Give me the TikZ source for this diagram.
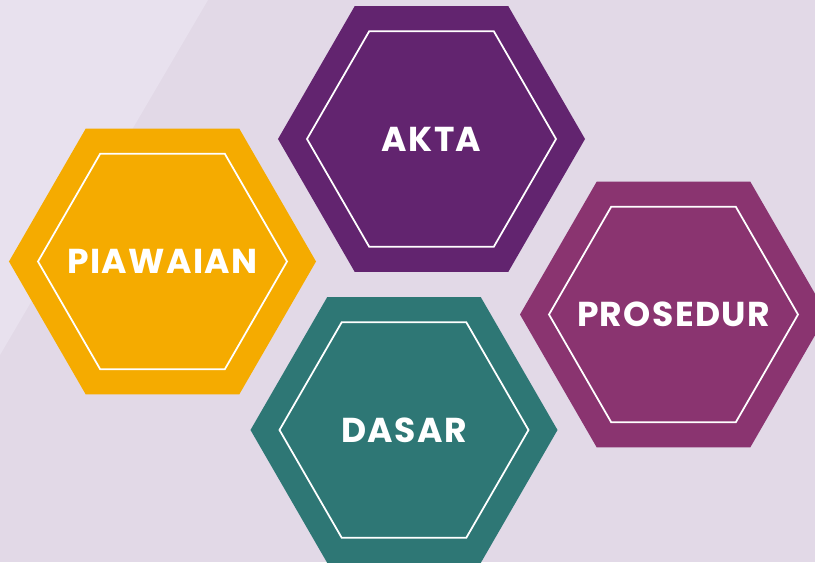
\documentclass[tikz,border=0pt]{standalone}
\usepackage{fontspec}
\setmainfont{Poppins}
\usetikzlibrary{shapes.geometric}
\definecolor{bgback}{HTML}{E2D9E7}
\definecolor{bglight}{HTML}{E8E1EE}
\definecolor{hexorange}{HTML}{F5AB00}
\definecolor{hexpurple}{HTML}{62246F}
\definecolor{hexmagenta}{HTML}{8A3470}
\definecolor{hexteal}{HTML}{2E7775}
\begin{document}
\begin{tikzpicture}[x=0.03cm,y=-0.03cm,
  hexbox/.style={regular polygon, regular polygon sides=6, minimum size=9.21cm, inner sep=0pt, outer sep=0pt},
  hexline/.style={regular polygon, regular polygon sides=6, minimum size=7.47cm, inner sep=0pt, draw=white, line width=1.5pt},
  hextext/.style={inner sep=0pt, text=white, font=\addfontfeatures{LetterSpace=4}\fontsize{29.5}{31}\selectfont\bfseries}]
\useasboundingbox (0,0) rectangle (815,562);
\fill[bgback] (0,0) rectangle (815,562);
\fill[bglight] (0,0) -- (208,0) -- (0,355) -- cycle;
\begin{scope}
\clip (0,0) rectangle (815,562);
\node[hexbox, fill=hexorange] (piawaian) at (162.5,261.5) {};
\node[hexline] (piawaianin) at (piawaian.center) {};
\node[hextext] (piawaiantext) at (piawaian.center) {PIAWAIAN};
\node[hexbox, fill=hexpurple] (akta) at (431.5,139) {};
\node[hexline] (aktain) at (akta.center) {};
\node[hextext] (aktatext) at (akta.center) {AKTA};
\node[hexbox, fill=hexmagenta] (prosedur) at (673.5,314.5) {};
\node[hexline] (prosedurin) at (prosedur.center) {};
\node[hextext] (prosedurtext) at (prosedur.center) {PROSEDUR};
\node[hexbox, fill=hexteal] (dasar) at (404,430) {};
\node[hexline] (dasarin) at (dasar.center) {};
\node[hextext] (dasartext) at (dasar.center) {DASAR};
\end{scope}
\end{tikzpicture}
\end{document}
